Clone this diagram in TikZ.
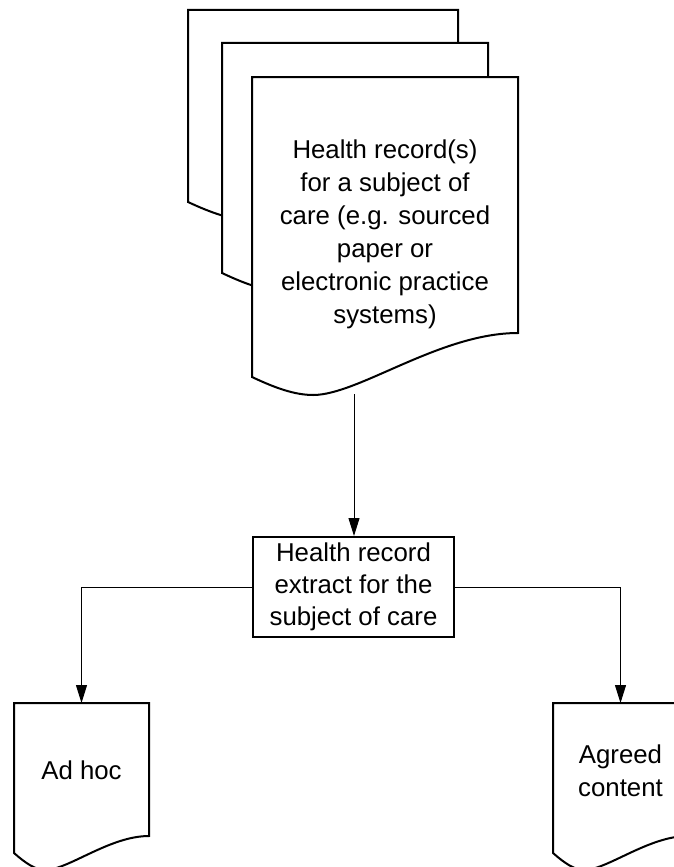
\documentclass[tikz,border=0pt]{standalone}
\usepackage{fontspec}
\setmainfont{Liberation Sans}
\usetikzlibrary{arrows.meta}
\newcommand\mydocpath[6]{%
  % #1 L, #2 T, #3 R, #4 BL, #5 BR, #6 depth
  \path[docline] (#1,#2) -- (#3,#2) -- (#3,#5)
    .. controls ({#3-0.293*(#3-#1)},#5) and ({#1+0.40*(#3-#1)},{#4+#6}) .. ({#1+0.23*(#3-#1)},{#4+#6})
    .. controls ({#1+0.16*(#3-#1)},{#4+#6}) and ({#1+0.086*(#3-#1)},{#4+0.6*#6}) .. (#1,#4) -- cycle;}
\tikzset{
  docline/.style={draw=black, fill=white, line width=2pt, line join=miter},
  txt/.style={align=center, inner sep=0pt, font=\fontsize{25.8}{33}\selectfont},
  boxnode/.style={draw=black, line width=2pt, align=center, minimum width=201pt, minimum height=100pt, inner sep=0pt, font=\fontsize{25.8}{32}\selectfont},
  conn/.style={draw=black, line width=1pt, -{Triangle[length=18pt,width=11pt]}},
}
\begin{document}
\begin{tikzpicture}[x=1pt,y=-1pt]
\useasboundingbox (0,0) rectangle (674,867);
\clip (0,0) rectangle (674,867);
\fill[white] (0,0) rectangle (674,867);
% stacked documents
\mydocpath{188}{10}{458}{202}{158}{18}
\mydocpath{222}{43}{488}{273}{229}{18}
\mydocpath{252}{77}{518}{377}{333}{18}
\node[txt] (rec) at (385,234) {Health record(s)\\for a subject of\\care (e.g. sourced\\paper or\\electronic practice\\systems)};
\coordinate (recB) at (354,394);
% extract box
\node[boxnode] (ext) at (353.5,587) {Health record\\extract for the\\subject of care};
% output documents
\mydocpath{14}{703}{149}{853}{836}{17}
\node[txt] (adhoc) at (81.5,770) {Ad hoc};
\coordinate (adhocT) at (81.5,703);
\mydocpath{553}{703}{688}{853}{836}{17}
\node[txt] (agreed) at (620.5,771) {Agreed\\content};
\coordinate (agreedT) at (620.5,703);
% connectors
\draw[conn] (recB) -- (recB |- ext.north);
\draw[conn] (ext.west) -| (adhocT);
\draw[conn] (ext.east) -| (agreedT);
\end{tikzpicture}
\end{document}
